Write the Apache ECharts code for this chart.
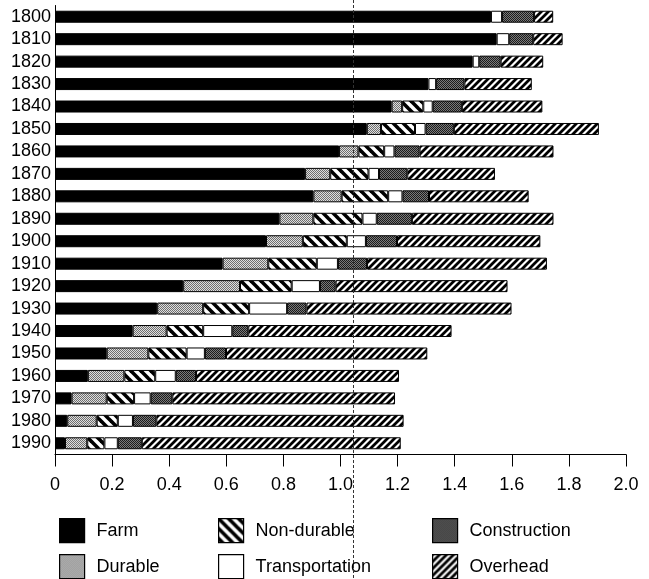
<!DOCTYPE html>
<html>
<head>
<meta charset="utf-8">
<script src="https://cdn.jsdelivr.net/npm/echarts@6/dist/echarts.min.js"></script>
<style>
  html, body { margin: 0; padding: 0; background: #fff; }
  #chart { width: 649px; height: 579px; }
</style>
</head>
<body>
<div id="chart"></div>
<script>
// Decades shown on the vertical axis (top to bottom)
const years = ['1800','1810','1820','1830','1840','1850','1860','1870','1880','1890',
               '1900','1910','1920','1930','1940','1950','1960','1970','1980','1990'];

// Sector values per decade (stacked left to right)
const farm = [1.527, 1.547, 1.463, 1.308, 1.179, 1.092, 0.995, 0.876, 0.905, 0.786,
              0.739, 0.587, 0.449, 0.358, 0.272, 0.181, 0.115, 0.058, 0.043, 0.035];
const durable = [null, null, null, null, 0.037, 0.050, 0.068, 0.088, 0.099, 0.119,
                 0.129, 0.160, 0.199, 0.161, 0.119, 0.146, 0.128, 0.123, 0.103, 0.078];
const nonDurable = [null, null, null, null, 0.074, 0.119, 0.090, 0.134, 0.163, 0.172,
                    0.154, 0.170, 0.181, 0.161, 0.128, 0.134, 0.108, 0.096, 0.074, 0.060];
const transportation = [0.039, 0.044, 0.023, 0.027, 0.033, 0.037, 0.036, 0.037, 0.050, 0.050,
                        0.067, 0.074, 0.099, 0.133, 0.102, 0.064, 0.072, 0.058, 0.053, 0.047];
const construction = [0.112, 0.084, 0.075, 0.099, 0.102, 0.099, 0.088, 0.099, 0.093, 0.123,
                      0.109, 0.102, 0.055, 0.068, 0.056, 0.074, 0.071, 0.076, 0.082, 0.084];
const overhead = [0.067, 0.103, 0.149, 0.236, 0.282, 0.508, 0.469, 0.307, 0.349, 0.496,
                  0.502, 0.630, 0.602, 0.718, 0.712, 0.705, 0.711, 0.780, 0.866, 0.907];

// Reference level marked by the dashed vertical line
const referenceLevel = 1.045;

const FONT = "'Liberation Sans', Arial, Helvetica, sans-serif";

// ---- fill patterns ----
function stipple(dark, light) {
  const c = document.createElement('canvas');
  c.width = 2; c.height = 2;
  const g = c.getContext('2d');
  g.fillStyle = light; g.fillRect(0, 0, 2, 2);
  g.fillStyle = dark; g.fillRect(0, 0, 1, 1); g.fillRect(1, 1, 1, 1);
  return { image: c, repeat: 'repeat' };
}
function hatch(size, width, backslash) {
  const c = document.createElement('canvas');
  c.width = size; c.height = size;
  const g = c.getContext('2d');
  g.fillStyle = '#fff'; g.fillRect(0, 0, size, size);
  g.strokeStyle = '#000'; g.lineWidth = width; g.lineCap = 'square';
  for (let k = -1; k <= 1; k++) {
    g.beginPath();
    if (backslash) {
      g.moveTo(k * size, 0); g.lineTo(k * size + size, size);
    } else {
      g.moveTo(k * size, size); g.lineTo(k * size + size, 0);
    }
    g.stroke();
  }
  return { image: c, repeat: 'repeat' };
}

const fills = {
  'Farm': '#000',
  'Durable': stipple('#6e6e6e', '#dedede'),
  'Non-durable': hatch(10, 3.6, true),
  'Transportation': '#fff',
  'Construction': stipple('#1c1c1c', '#7a7a7a'),
  'Overhead': hatch(7, 2.8, false)
};

const seriesDefs = [
  ['Farm', farm],
  ['Durable', durable],
  ['Non-durable', nonDurable],
  ['Transportation', transportation],
  ['Construction', construction],
  ['Overhead', overhead]
];

// Legend laid out as a 3 x 2 block: [name, left, top]
const legendSlots = [
  ['Farm', 59, 518], ['Durable', 59, 554],
  ['Non-durable', 218, 518], ['Transportation', 218, 554],
  ['Construction', 432, 518], ['Overhead', 432, 554]
];

const chart = echarts.init(document.getElementById('chart'), null, { renderer: 'canvas' });

chart.setOption({
  animation: false,
  backgroundColor: '#fff',
  grid: { left: 55, right: 23, top: 5.5, height: 449, containLabel: false },
  xAxis: {
    type: 'value',
    min: 0, max: 2, interval: 0.2,
    axisLine: { show: true, lineStyle: { color: '#000', width: 1 } },
    axisTick: { show: true, length: 12, lineStyle: { color: '#000', width: 1 } },
    splitLine: { show: false },
    axisLabel: {
      fontFamily: FONT, fontSize: 18, color: '#000', margin: 22,
      formatter: v => (v === 0 ? '0' : v.toFixed(1))
    }
  },
  yAxis: {
    type: 'category',
    data: years,
    inverse: true,
    axisLine: { show: true, lineStyle: { color: '#000', width: 1 } },
    axisTick: { show: false },
    axisLabel: { fontFamily: FONT, fontSize: 18, color: '#000', margin: 4, interval: 0 }
  },
  legend: legendSlots.map(([name, left, top]) => ({
    data: [name],
    left: left,
    top: top,
    padding: 0,
    itemWidth: 25,
    itemHeight: 24,
    icon: 'rect',
    selectedMode: false,
    itemStyle: { borderColor: '#000', borderWidth: 1.2 },
    textStyle: { fontFamily: FONT, fontSize: 18, color: '#000', padding: [0, 0, 0, 7] }
  })),
  series: seriesDefs.map(([name, values]) => ({
    name: name,
    type: 'bar',
    stack: 'total',
    barWidth: 12,
    data: values,
    itemStyle: { color: fills[name], borderColor: '#000', borderWidth: 1 },
    emphasis: { disabled: true }
  }))
});

// Dashed vertical reference line, positioned through the value axis
const lx = Math.round(chart.convertToPixel({ xAxisIndex: 0 }, referenceLevel)) + 0.5;
chart.setOption({
  graphic: [{
    type: 'line',
    z: 100,
    silent: true,
    shape: { x1: lx, y1: 0, x2: lx, y2: 579 },
    style: { stroke: '#333', lineWidth: 1, lineDash: [3, 2] }
  }]
});
</script>
</body>
</html>
